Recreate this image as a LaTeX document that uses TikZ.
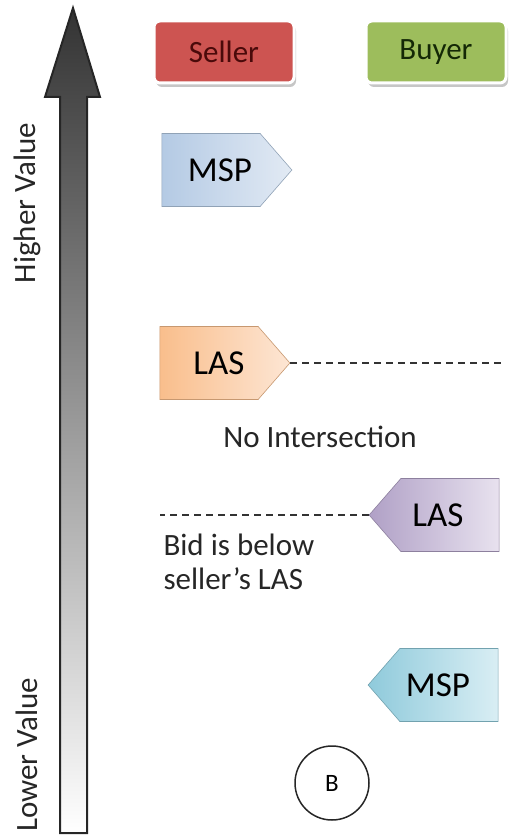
\documentclass[tikz,border=0pt]{standalone}
\usepackage{fontspec}
\setmainfont{Carlito}
\usetikzlibrary{shapes.symbols,shadows}

\definecolor{sellred}{HTML}{CD5451}
\definecolor{sellink}{HTML}{4A0A0A}
\definecolor{buygreen}{HTML}{9DBD5C}
\definecolor{buyink}{HTML}{142806}
\definecolor{mspblue}{HTML}{B4CAE4}
\definecolor{mspblueL}{HTML}{E2EAF4}
\definecolor{laspeach}{HTML}{F9BE8C}
\definecolor{laspeachL}{HTML}{FDE6D4}
\definecolor{laspurple}{HTML}{B0A0C6}
\definecolor{laspurpleL}{HTML}{E8E2EF}
\definecolor{mspteal}{HTML}{8FCADB}
\definecolor{msptealL}{HTML}{D9EEF4}

\tikzset{
  party/.style={rounded corners=6pt, draw=white, line width=3pt,
    minimum width=140pt, minimum height=62pt,
    drop shadow={shadow xshift=2pt, shadow yshift=-4pt, opacity=0.45},
    font=\fontsize{31}{34}\selectfont},
  tag/.style={signal, signal pointer angle=98, line width=0.6pt,
    minimum width=130pt, minimum height=73pt, inner sep=0pt,
    font=\fontsize{35}{38}\selectfont},
  dashline/.style={dash pattern=on 7pt off 5pt, line width=1.2pt, black!80},
  note/.style={font=\fontsize{31}{34}\selectfont, black!85}
}

\begin{document}
\begin{tikzpicture}[x=1pt, y=-1pt]
  \useasboundingbox (0,0) rectangle (511,840);

  % Value axis
  \shade[top color=black!80, bottom color=white, draw=black!85, line width=2pt, line join=miter]
    (60,833) -- (60,97) -- (45,97) -- (73,8) -- (100,97) -- (87,97) -- (87,833) -- cycle;
  \node[note, rotate=90] (hival) at (27,203) {Higher Value};
  \node[note, rotate=90] (loval) at (27,755) {Lower Value};

  % Parties
  \node[party, fill=sellred, text=sellink] (seller) at (224,52) {Seller};
  \node[party, fill=buygreen, text=buyink] (buyer) at (436,52) {Buyer};

  % Seller
  \node[tag, signal to=east, draw=mspblue!80!black, left color=mspblue, right color=mspblueL] (selmsp) at (211,170) {\hspace*{18pt}MSP};
  \node[tag, signal to=east, draw=laspeach!80!black, left color=laspeach, right color=laspeachL] (sellas) at (209,363) {\hspace*{20pt}LAS};
  \coordinate (lasend) at (506,363);
  \draw[dashline] (sellas.east) -- (lasend);
  \node[note] (nointer) at (320,437) {No Intersection};

  % Buyer
  \node[tag, signal to=west, draw=laspurple!80!black, left color=laspurple, right color=laspurpleL] (buylas) at (450,515) {LAS\hspace*{24pt}};
  \coordinate (bidend) at (160,515);
  \draw[dashline] (buylas.west) -- (bidend);
  \node[note, anchor=west, align=left] (bidnote) at (160,562) {Bid is below\\seller’s LAS};
  \node[tag, signal to=west, draw=mspteal!80!black, left color=mspteal, right color=msptealL] (buymsp) at (449,685) {MSP\hspace*{22pt}};

  % Case label
  \node[circle, draw=black!85, line width=1.5pt, minimum size=74pt, inner sep=0pt,
    font=\fontsize{25}{27}\selectfont] (caseB) at (332,783) {B};
\end{tikzpicture}
\end{document}
